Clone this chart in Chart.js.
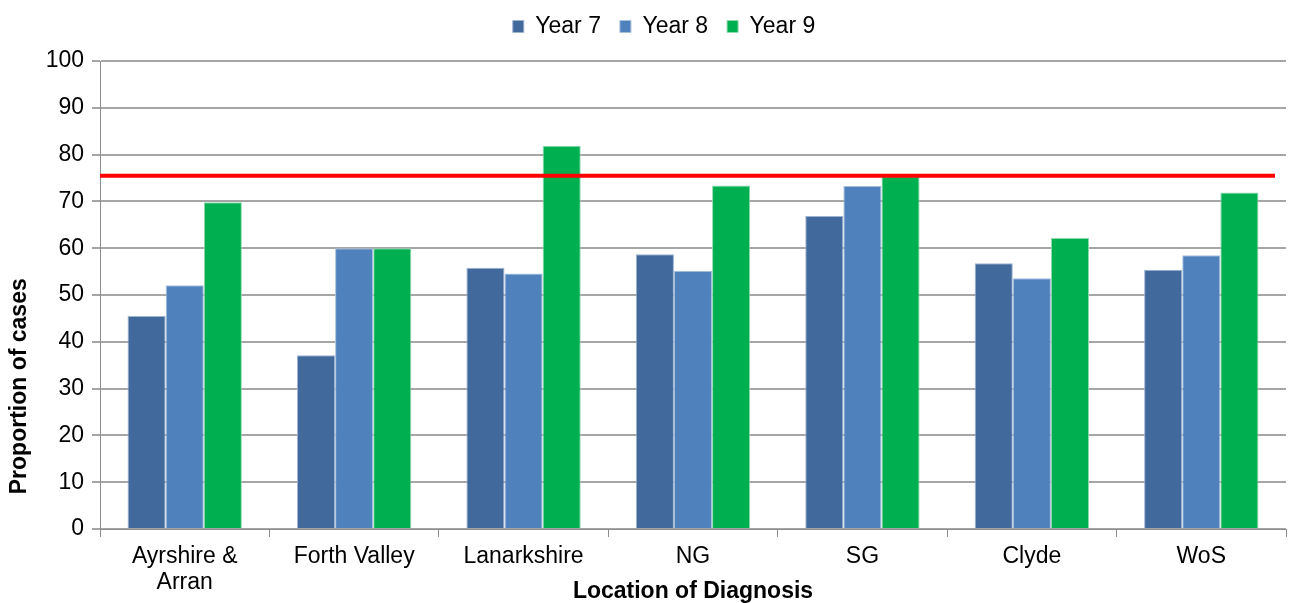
<!DOCTYPE html>
<html>
<head>
<meta charset="utf-8">
<script src="https://cdn.jsdelivr.net/npm/chart.js@4/dist/chart.umd.min.js"></script>
<style>
  html, body { margin: 0; padding: 0; background: #ffffff; }
  #wrap { width: 1294px; height: 603px; }
</style>
</head>
<body>
<div id="wrap"><canvas id="c" width="1294" height="603"></canvas></div>
<script>
// Health board locations
const locations = [["Ayrshire &", "Arran"], "Forth Valley", "Lanarkshire", "NG", "SG", "Clyde", "WoS"];

// Proportion of cases (%) by year
const year7 = [45.5, 37.1, 55.8, 58.7, 66.9, 56.8, 55.4];
const year8 = [52.1, 60.0, 54.6, 55.2, 73.3, 53.6, 58.5];
const year9 = [69.8, 60.0, 81.9, 73.4, 75.4, 62.2, 71.9];

// Target level drawn as a horizontal red line
const targetLevel = 75.5;

// Y axis ticks
const yTicks = [0, 10, 20, 30, 40, 50, 60, 70, 80, 90, 100];

const yTitle = 'Proportion of cases';

const FONT = "'Liberation Sans', Arial, sans-serif";
const FONT_SIZE = 23;

const targetLine = {
  id: 'targetLine',
  afterDatasetsDraw(chart) {
    const { ctx, chartArea, scales } = chart;
    const y = scales.y.getPixelForValue(targetLevel);
    const catW = (chartArea.right - chartArea.left) / locations.length;
    ctx.save();
    ctx.strokeStyle = '#FF0000';
    ctx.lineWidth = 4;
    ctx.beginPath();
    ctx.moveTo(chartArea.left, y);
    ctx.lineTo(chartArea.right - catW * 0.065, y);
    ctx.stroke();
    ctx.restore();
  }
};

// Rotated y-axis title, sitting a little below the axis midpoint
const yAxisTitle = {
  id: 'yAxisTitle',
  afterDraw(chart) {
    const { ctx, chartArea } = chart;
    const cy = chartArea.top + (chartArea.bottom - chartArea.top) * 0.695;
    ctx.save();
    ctx.translate(20, cy);
    ctx.rotate(-Math.PI / 2);
    ctx.font = 'bold ' + FONT_SIZE + 'px ' + FONT;
    ctx.fillStyle = '#000000';
    ctx.textAlign = 'center';
    ctx.textBaseline = 'middle';
    ctx.fillText(yTitle, 0, 0);
    ctx.restore();
  }
};

// Fixed legend band height, legend centred over the plot area
const legendLayout = {
  id: 'legendLayout',
  beforeInit(chart) {
    const legend = chart.legend;
    const fit = legend.fit;
    legend.fit = function () {
      fit.call(this);
      this.height = 61;
    };
    const draw = legend.draw;
    legend.draw = function () {
      const ctx = this.ctx;
      const area = chart.chartArea;
      const dx = ((area.left + area.right) / 2 - (this.left + this.right) / 2) - 29;
      ctx.save();
      ctx.translate(dx, -4);
      draw.apply(this, arguments);
      ctx.restore();
    };
  }
};

new Chart(document.getElementById('c'), {
  type: 'bar',
  data: {
    labels: locations,
    datasets: [
      { label: 'Year 7', data: year7, backgroundColor: '#41699C', borderColor: '#9DB3D0', borderWidth: 1 },
      { label: 'Year 8', data: year8, backgroundColor: '#4F81BD', borderColor: '#A9C0DD', borderWidth: 1 },
      { label: 'Year 9', data: year9, backgroundColor: '#00B050', borderColor: '#8FD9AE', borderWidth: 1 }
    ]
  },
  options: {
    responsive: false,
    animation: false,
    devicePixelRatio: 1,
    layout: { padding: { top: 0, right: 8, bottom: 0, left: 0 } },
    datasets: { bar: { categoryPercentage: 0.675, barPercentage: 1.0 } },
    plugins: {
      legend: {
        position: 'top',
        labels: {
          font: { family: FONT, size: FONT_SIZE },
          color: '#000000',
          boxWidth: 11,
          boxHeight: 12,
          padding: 19
        }
      },
      tooltip: { enabled: false }
    },
    scales: {
      x: {
        grid: { display: true, drawOnChartArea: false, drawTicks: true, tickLength: 8, color: '#8C8C8C', offset: true },
        border: { color: '#8C8C8C', width: 1 },
        ticks: { font: { family: FONT, size: FONT_SIZE, lineHeight: 1.15 }, color: '#000000', padding: 6, maxRotation: 0, autoSkip: false },
        title: { display: true, text: 'Location of Diagnosis', font: { family: FONT, size: FONT_SIZE, weight: 'bold' }, color: '#000000', padding: { top: 0, bottom: -2 } },
        afterFit(scale) { scale.height = 74; }
      },
      y: {
        min: 0,
        max: 100,
        afterBuildTicks(scale) { scale.ticks = yTicks.map(v => ({ value: v })); },
        grid: { color: '#A6A6A6', lineWidth: 2, tickLength: 8, drawTicks: true },
        border: { color: '#8C8C8C', width: 1 },
        ticks: { font: { family: FONT, size: FONT_SIZE }, color: '#000000', padding: 8 },
        title: { display: false },
        afterFit(scale) { scale.width = 100; }
      }
    }
  },
  plugins: [legendLayout, targetLine, yAxisTitle]
});
</script>
</body>
</html>
